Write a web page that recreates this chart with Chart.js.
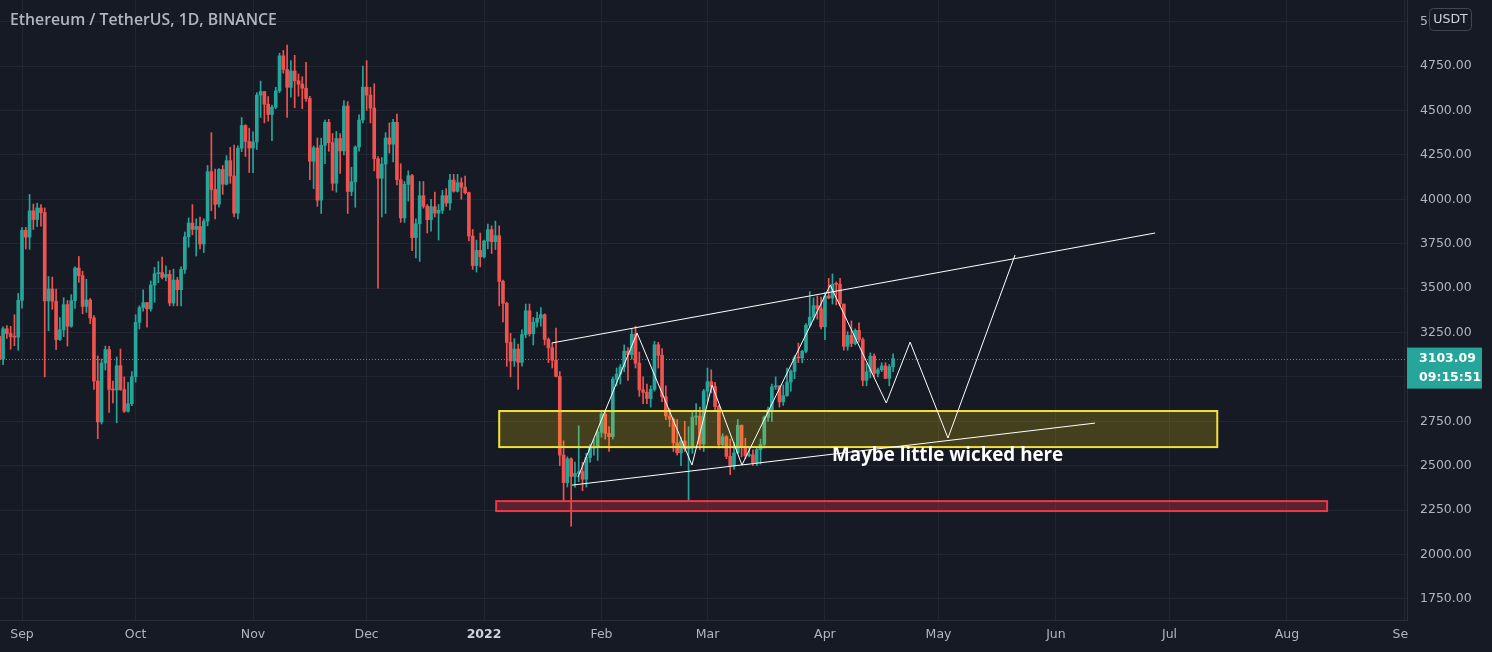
<!DOCTYPE html>
<html><head><meta charset="utf-8">
<script src="https://cdn.jsdelivr.net/npm/chart.js@4.4.0/dist/chart.umd.min.js"></script>
<style>html,body{margin:0;padding:0;background:#161a25;overflow:hidden}canvas{display:block}</style>
</head><body>
<canvas id="c" width="1492" height="652"></canvas>
<script>
// Daily ETH/USDT candles, Aug 26 2021 .. Apr 19 2022 (day 0 = Sep 1 2021)
const firstDay = -6;
const opens = [
 3228,3099,3271,3244,3226,3224,
 3431,3825,3787,3935,3886,3951,3925,3428,3495,3426,3210,3265,3407,3285,3429,3613,3570,3397,3433,3332,2977,2747,3078,3154,2930,2926,3063,2929,2807,2850,
 3001,3307,3390,3418,3383,3517,3581,3587,3561,3577,3416,3545,3491,3605,3789,3866,3830,3847,3748,3877,4155,4055,3972,4168,4085,4217,4131,3922,4287,4415,4325,
 4288,4323,4586,4606,4535,4477,4518,4610,4807,4731,4630,4722,4667,4648,4625,4567,4214,4289,3995,4304,4433,4318,4090,4342,4272,4525,4044,4098,4294,4446,
 4631,4586,4513,4228,4118,4198,4345,4310,4433,4110,3895,4084,4133,3784,3862,4020,3961,3885,3958,3922,3938,4020,3979,4108,4045,4093,4067,4037,3793,3627,3712,
 3676,3765,3829,3761,3795,3538,3414,3194,3090,3157,3082,3238,3372,3243,3307,3330,3350,3211,3164,3094,3003,2560,2405,2539,2440,2457,2467,2424,2546,2599,2604,
 2688,2791,2682,2664,2987,3016,3056,3145,3126,3240,3077,2927,2913,2878,2930,3181,3122,2889,2780,2762,2629,2573,2639,2594,2599,2774,2780,2622,
 2920,2973,2946,2833,2619,2664,2553,2498,2572,2728,2608,2557,2562,2518,2591,2620,2773,2815,2944,2950,2860,2895,2971,3031,3108,3107,3144,3291,3336,3401,3384,
 3282,3455,3444,3522,3521,3410,3172,3234,3188,3262,3209,2981,3029,3117,3020,3040,3062,2992,3057
];
const highs = [
 3249,3282,3289,3285,3350,3470,
 3841,3842,4027,3973,3979,3970,3951,3565,3562,3495,3334,3446,3430,3463,3620,3678,3595,3550,3442,3345,3118,3100,3173,3172,2977,3112,3157,3000,2970,3030,
 3350,3400,3490,3420,3540,3617,3650,3675,3625,3600,3607,3560,3620,3815,3895,3970,3890,3900,3890,4190,4375,4170,4173,4190,4245,4292,4305,4300,4460,4420,4400,
 4380,4600,4665,4607,4578,4530,4630,4822,4838,4868,4780,4810,4705,4690,4770,4580,4300,4345,4344,4445,4450,4370,4382,4370,4555,4550,4180,4300,4475,4750,
 4780,4630,4650,4240,4235,4375,4430,4450,4480,4200,4100,4160,4140,3890,4100,4100,3970,4000,4040,3970,4050,4060,4140,4140,4140,4120,4130,4040,3830,3770,3810,
 3770,3860,3850,3877,3850,3545,3420,3245,3215,3185,3265,3410,3410,3335,3365,3390,3355,3220,3190,3275,3030,2640,2550,2545,2520,2725,2520,2570,2620,2650,2700,
 2805,2800,2720,3000,3050,3070,3180,3165,3270,3285,3140,3000,2960,2950,3200,3195,3160,2950,2820,2770,2760,2660,2750,2720,2800,2850,2830,2930,
 3050,3040,2970,2840,2680,2670,2650,2630,2760,2730,2655,2600,2590,2600,2650,2780,2830,2960,3000,2950,2955,3050,3040,3120,3190,3150,3300,3480,3445,3455,3450,
 3475,3555,3580,3535,3555,3410,3255,3315,3270,3305,3220,3075,3135,3130,3050,3080,3080,3070,3130
];
const lows = [
 3060,3069,3217,3156,3176,3150,
 3387,3720,3718,3830,3846,3848,3000,3260,3380,3153,3205,3227,3174,3280,3386,3532,3355,3363,3300,2930,2652,2735,3039,2800,2854,2742,2924,2800,2802,2838,
 2970,3270,3370,3280,3370,3420,3530,3552,3540,3400,3400,3400,3400,3582,3730,3800,3680,3720,3700,3850,3935,3890,3955,4028,4080,4090,3900,3890,4268,4240,4150,
 4150,4280,4460,4430,4440,4330,4510,4600,4710,4460,4574,4515,4580,4510,4550,4110,4060,3960,3920,4200,4270,4050,4040,4145,4250,3920,4020,3955,4270,4430,
 4500,4430,4160,3500,3900,3920,4260,4210,4080,3870,3870,3990,3710,3670,3650,3950,3810,3820,3900,3770,3920,3960,3940,4040,4040,4000,4030,3765,3605,3590,3620,
 3670,3720,3695,3717,3400,3310,3060,3000,3060,2930,3060,3220,3230,3180,3280,3285,3180,3080,3050,3000,2500,2300,2380,2160,2380,2410,2360,2380,2520,2560,2530,
 2660,2650,2580,2650,2950,2960,3030,2980,3100,3050,2890,2850,2850,2830,2920,3050,2860,2760,2720,2580,2560,2500,2580,2300,2570,2730,2590,2580,
 2860,2910,2810,2600,2600,2540,2450,2480,2570,2550,2540,2550,2500,2500,2510,2600,2750,2750,2930,2830,2840,2890,2920,2990,3080,3080,3135,3280,3320,3325,3270,
 3210,3440,3410,3405,3400,3150,3150,3170,3180,3195,2950,2950,2995,3000,3000,3030,2990,2950,3030
];
const closes = [
 3099,3271,3244,3226,3224,3431,
 3825,3787,3935,3886,3951,3925,3428,3495,3426,3210,3265,3407,3285,3429,3613,3570,3397,3433,3332,2977,2747,3078,3154,2930,2926,3063,2929,2807,2850,3001,
 3307,3390,3418,3383,3517,3581,3587,3561,3577,3416,3545,3491,3605,3789,3866,3830,3847,3748,3877,4155,4055,3972,4168,4085,4217,4131,3922,4287,4415,4325,4288,
 4323,4586,4606,4535,4477,4518,4610,4807,4731,4630,4722,4667,4648,4625,4567,4214,4289,3995,4304,4433,4318,4090,4342,4272,4525,4044,4098,4294,4446,4631,
 4586,4513,4228,4118,4198,4345,4310,4433,4110,3895,4084,4133,3784,3862,4020,3961,3885,3958,3922,3938,4020,3979,4108,4045,4093,4067,4037,3793,3627,3712,3676,
 3765,3829,3761,3795,3538,3414,3194,3090,3157,3082,3238,3372,3243,3307,3330,3350,3211,3164,3094,3003,2560,2405,2539,2440,2457,2467,2424,2546,2599,2604,2688,
 2791,2682,2664,2987,3016,3056,3145,3126,3240,3077,2927,2913,2878,2930,3181,3122,2889,2780,2762,2629,2573,2639,2594,2599,2774,2780,2622,2920,
 2973,2946,2833,2619,2664,2553,2498,2572,2728,2608,2557,2562,2518,2591,2620,2773,2815,2944,2950,2860,2895,2971,3031,3108,3107,3144,3291,3336,3401,3384,3282,
 3455,3444,3522,3521,3410,3172,3234,3188,3262,3209,2981,3029,3117,3020,3040,3062,2992,3057,3103.09
];
const monthTickDays = [0,30,61,91,122,153,181,212,242,273,303,334,365];
const monthLabels = ['Sep','Oct','Nov','Dec','2022','Feb','Mar','Apr','May','Jun','Jul','Aug','Sep'];
const priceTicks = [1750,2000,2250,2500,2750,3000,3250,3500,3750,4000,4250,4500,4750,5000];
// drawings (day, price)
const upperChannel = [[139.9,3191],[299.2,3810]];
const lowerChannel = [[145.2,2391],[283.3,2740]];
const projection = [[146.8,2436],[162.4,3247],[176.9,2504],[182.2,2954],[190.1,2504],[213.4,3517],[228.2,2853],[234.5,3196],[244.5,2656],[262.2,3686]];
const yellowZone = [126.0,315.6,2605,2808];   // dayFrom, dayTo, priceLow, priceHigh
const redZone = [125.2,344.6,2245,2301];
const noteText = 'Maybe little wicked here';
const notePos = [213.9,2556];
const titleText = 'Ethereum / TetherUS, 1D, BINANCE';
const lastPrice = 3103.09;
const countdown = '09:15:51';

const UP = '#26a69a', DOWN = '#ef5350';
const BG = '#161a25', GRID = '#222633', TXT = '#b2b5be';
const candleColors = closes.map((c,i)=> c >= opens[i] ? UP : DOWN);
const days = closes.map((_,i)=> firstDay + i);

const bodyData = days.map((d,i)=>({x:d, y:[opens[i], closes[i]]}));
const wickData = days.map((d,i)=>({x:d, y:[lows[i], highs[i]]}));
const toXY = arr => arr.map(p=>({x:p[0], y:p[1]}));

const lineDs = (data)=>({type:'line', data:toXY(data), borderColor:'#ffffff', borderWidth:1, pointRadius:0, tension:0, order:0, fill:false});

const plugin = {
  id:'tv',
  beforeDraw(chart){
    const c = chart.ctx; c.save(); c.fillStyle = BG; c.fillRect(0,0,chart.width,chart.height); c.restore();
  },
  beforeDatasetsDraw(chart){
    const c = chart.ctx, a = chart.chartArea, y = chart.scales.y.getPixelForValue(lastPrice);
    c.save(); c.strokeStyle = UP; c.lineWidth = 1; c.setLineDash([1,2]);
    c.beginPath(); c.moveTo(a.left, Math.round(y)+0.5); c.lineTo(a.right, Math.round(y)+0.5); c.stroke(); c.restore();
  },
  afterDatasetDraw(chart, args){
    if (args.index !== 0) return;
    const c = chart.ctx, xs = chart.scales.x, ys = chart.scales.y;
    const rect = (z, fill, stroke) => {
      const x1 = xs.getPixelForValue(z[0]), x2 = xs.getPixelForValue(z[1]);
      const y1 = ys.getPixelForValue(z[3]), y2 = ys.getPixelForValue(z[2]);
      c.fillStyle = fill; c.fillRect(x1, y1, x2-x1, y2-y1);
      c.strokeStyle = stroke; c.lineWidth = 2; c.strokeRect(x1, y1, x2-x1, y2-y1);
    };
    c.save();
    rect(yellowZone, 'rgba(255,222,0,0.2)', '#f2e13a');
    rect(redZone, 'rgba(242,54,69,0.3)', '#f23645');
    c.restore();
  },
  afterDraw(chart){
    const c = chart.ctx, xs = chart.scales.x, ys = chart.scales.y, a = chart.chartArea;
    c.save();
    // corner
    c.fillStyle = BG; c.fillRect(a.right+1, a.bottom+1, chart.width-a.right, chart.height-a.bottom);
    // title
    c.fillStyle = TXT; c.textBaseline = 'middle'; c.textAlign = 'left';
    c.font = '600 14px "Open Sans"';
    const tw = c.measureText(titleText).width;
    c.font = '600 ' + (14 * 267 / tw).toFixed(1) + 'px "Open Sans"';
    c.fillText(titleText, 10, 20);
    // note
    c.fillStyle = '#ffffff'; c.font = 'bold 18px "Open Sans"';
    const w = c.measureText(noteText).width;
    c.font = 'bold ' + (18 * 231 / w).toFixed(1) + 'px "Open Sans"';
    c.fillText(noteText, xs.getPixelForValue(notePos[0]), ys.getPixelForValue(notePos[1]));
    // price label
    const py = ys.getPixelForValue(lastPrice);
    c.fillStyle = UP; c.fillRect(a.right, py-11, 75, 41);
    c.fillStyle = '#ffffff'; c.font = 'bold 12.5px "DejaVu Sans"';
    c.fillText(lastPrice.toFixed(2), a.right+12, py);
    c.fillText(countdown, a.right+12, py+19);
    // USDT badge
    c.fillStyle = BG; c.strokeStyle = '#434651'; c.lineWidth = 1;
    c.beginPath(); c.roundRect(1429.5, 8.5, 42, 22, 4); c.fill(); c.stroke();
    c.fillStyle = '#d1d4dc'; c.font = '12.5px "DejaVu Sans"'; c.textAlign = 'center';
    c.fillText('USDT', 1450.5, 20);
    c.restore();
  }
};

new Chart(document.getElementById('c'), {
  type:'bar',
  data:{ datasets:[
    {data:bodyData, backgroundColor:candleColors, borderWidth:0, barThickness:3, minBarLength:1, grouped:false, order:1},
    {data:wickData, backgroundColor:candleColors, borderWidth:0, barThickness:1, grouped:false, order:2},
    lineDs(upperChannel), lineDs(lowerChannel), lineDs(projection)
  ]},
  options:{
    responsive:false, animation:false, devicePixelRatio:1,
    layout:{padding:0},
    plugins:{legend:{display:false}, tooltip:{enabled:false}},
    scales:{
      x:{type:'linear', min:-5.81, max:365.7, bounds:'data', offset:false, position:'bottom',
        grid:{color:GRID, drawTicks:false, offset:false}, border:{color:'#2a2e39'},
        afterBuildTicks: s => { s.ticks = monthTickDays.map(v=>({value:v})); },
        afterFit: s => { s.height = 32; s.paddingLeft = 0; s.paddingRight = 0; },
        ticks:{autoSkip:false, maxRotation:0, padding:7,
          color: ctx => monthLabels[ctx.index]==='2022' ? '#d1d4dc' : TXT,
          font: ctx => ({family:'"DejaVu Sans"', size:12.5, weight: monthLabels[ctx.index]==='2022' ? 'bold':'normal'}),
          callback:(v,i)=> monthLabels[i]}
      },
      y:{type:'linear', position:'right', min:1631.8, max:5121.5, bounds:'data',
        grid:{color:GRID, drawTicks:false}, border:{color:'#2a2e39'},
        afterBuildTicks: s => { s.ticks = priceTicks.map(v=>({value:v})); },
        afterFit: s => { s.width = 85; s.paddingTop = 0; s.paddingBottom = 0; },
        ticks:{padding:13, color:TXT, font:{family:'"DejaVu Sans"', size:12.5},
          callback: v => Number(v).toFixed(2)}
      }
    }
  },
  plugins:[plugin]
});
</script>
</body></html>
